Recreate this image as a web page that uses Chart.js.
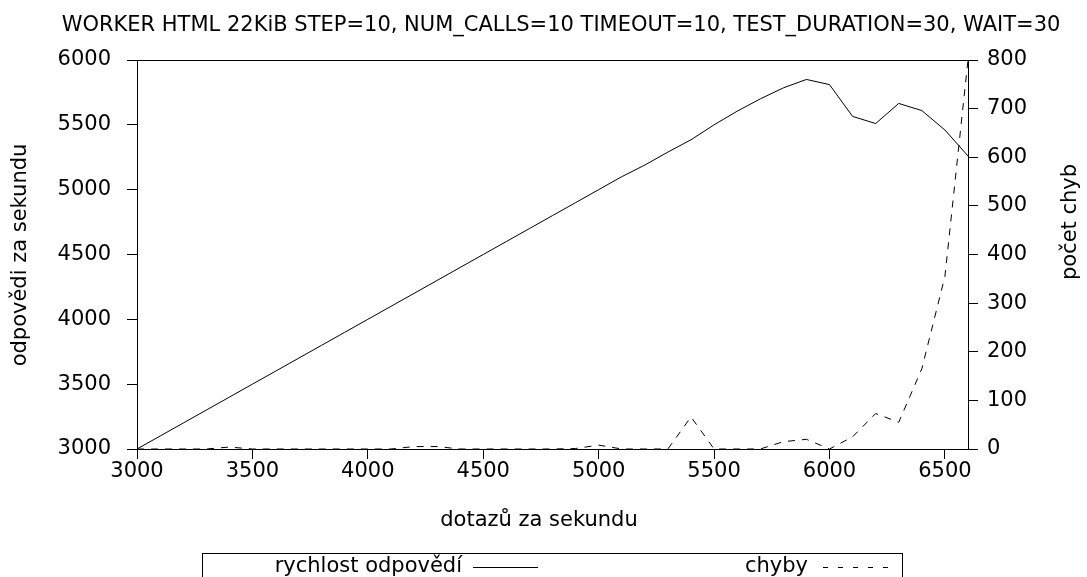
<!DOCTYPE html>
<html><head><meta charset="utf-8">
<script src="https://cdn.jsdelivr.net/npm/chart.js@4/dist/chart.umd.min.js"></script>
<style>html,body{margin:0;padding:0;background:#fff;overflow:hidden}#wrap{width:1087px;height:577px}</style>
</head><body><div id="wrap"><canvas id="c" width="1087" height="577"></canvas></div>
<script>
const requestsPerSecond = [3000,3100,3200,3300,3400,3500,3600,3700,3800,3900,4000,4100,4200,4300,4400,4500,4600,4700,4800,4900,5000,5100,5200,5300,5400,5500,5600,5700,5800,5900,6000,6100,6200,6300,6400,6500,6600];
const responsesPerSecond = [3000,3100,3200,3300,3400,3500,3600,3700,3800,3900,4000,4100,4200,4300,4400,4500,4600,4700,4800,4900,5000,5100,5190,5290,5385,5500,5605,5700,5785,5850,5810,5565,5510,5665,5610,5460,5260];
const errorCounts = [0,0,0,0,4,0,0,0,0,0,0,0,5,5,0,0,0,0,0,1,8,0,0,0,66,0,0,0,15,20,0,25,73,55,165,355,800];
const xTickValues = [3000,3500,4000,4500,5000,5500,6000,6500];
const yTickValues = [3000,3500,4000,4500,5000,5500,6000];
const y2TickValues = [0,100,200,300,400,500,600,700,800];
const chartTitle = "WORKER HTML 22KiB STEP=10, NUM_CALLS=10 TIMEOUT=10, TEST_DURATION=30, WAIT=30";
const xTitle = "dotazů za sekundu";
const yTitle = "odpovědi za sekundu";
const y2Title = "počet chyb";
const seriesNames = ["rychlost odpovědí", "chyby"];

const FONT = "DejaVu Sans";
const FS = 21;
const AREA = {left:137, right:968, top:60, bottom:449};
const W = 1087, H = 577;

const decor = {
  id: 'decor',
  afterDraw(chart) {
    const ctx = chart.ctx;
    const ca = chart.chartArea;
    ctx.save();
    ctx.strokeStyle = '#000'; ctx.lineWidth = 1;
    ctx.strokeRect(Math.round(ca.left)+0.5, Math.round(ca.top)+0.5, Math.round(ca.right-ca.left), Math.round(ca.bottom-ca.top));
    ctx.fillStyle = '#000';
    ctx.font = FS + 'px "' + FONT + '"';
    ctx.textBaseline = 'middle';
    ctx.textAlign = 'center';
    ctx.fillText(chartTitle, 561, 26);
    ctx.fillText(xTitle, 539, 521);
    ctx.save(); ctx.translate(21, 255); ctx.rotate(-Math.PI/2); ctx.fillText(yTitle, 0, 0); ctx.restore();
    ctx.save(); ctx.translate(1071, 222); ctx.rotate(-Math.PI/2); ctx.fillText(y2Title, 0, 0); ctx.restore();
    ctx.strokeRect(202.5, 553.5, 700, 40);
    ctx.textAlign = 'right';
    ctx.fillText(seriesNames[0], 462, 567);
    ctx.fillText(seriesNames[1], 808, 567);
    ctx.beginPath(); ctx.moveTo(473, 567.5); ctx.lineTo(538, 567.5); ctx.stroke();
    ctx.setLineDash([5, 10]);
    ctx.beginPath(); ctx.moveTo(823, 567.5); ctx.lineTo(890, 567.5); ctx.stroke();
    ctx.restore();
  }
};

const border = {display: true, color: '#000', width: 1};
const grid = {drawOnChartArea: false, drawTicks: true, tickLength: 10, color: '#000', lineWidth: 1};
const tickFont = {family: FONT, size: FS};
const setTicks = (vals) => (s) => { s.ticks = vals.map(v => ({value: v})); };

new Chart(document.getElementById('c'), {
  type: 'line',
  data: {
    datasets: [
      {label: seriesNames[0], data: requestsPerSecond.map((x,i)=>({x, y: responsesPerSecond[i]})), yAxisID: 'y',
       borderColor: '#000', borderWidth: 1, pointRadius: 0, tension: 0, fill: false},
      {label: seriesNames[1], data: requestsPerSecond.map((x,i)=>({x, y: errorCounts[i]})), yAxisID: 'y2',
       borderColor: '#000', borderWidth: 1, borderDash: [7, 7], pointRadius: 0, tension: 0, fill: false}
    ]
  },
  options: {
    responsive: false, animation: false, devicePixelRatio: 1,
    layout: {padding: {left: 0, right: 0, top: AREA.top, bottom: 0}},
    plugins: {legend: {display: false}, title: {display: false}, tooltip: {enabled: false}},
    scales: {
      x: {type: 'linear', min: 3000, max: 6600, position: 'bottom', border, grid,
          ticks: {color: '#000', font: tickFont, padding: 0, maxRotation: 0, autoSkip: false, callback: v => String(v)},
          afterBuildTicks: setTicks(xTickValues),
          afterFit(s) { s.height = H - AREA.bottom; }},
      y: {type: 'linear', min: 3000, max: 6000, position: 'left', border, grid,
          ticks: {color: '#000', font: tickFont, padding: 16, autoSkip: false, callback: v => String(v)},
          afterBuildTicks: setTicks(yTickValues),
          afterFit(s) { s.width = AREA.left; }},
      y2: {type: 'linear', min: 0, max: 800, position: 'right', border, grid,
          ticks: {color: '#000', font: tickFont, padding: 9, autoSkip: false, callback: v => String(v)},
          afterBuildTicks: setTicks(y2TickValues),
          afterFit(s) { s.width = W - AREA.right; }}
    }
  },
  plugins: [decor]
});
</script></body></html>
